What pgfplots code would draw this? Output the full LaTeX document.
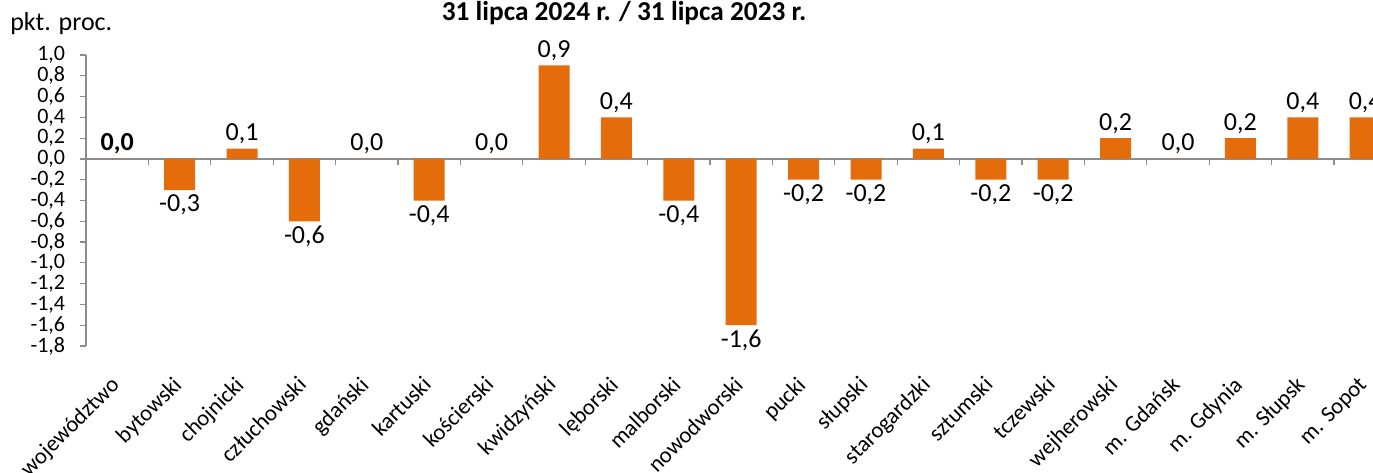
\documentclass[border=0pt]{standalone}
\usepackage{pgfplots}
\pgfplotsset{compat=1.18}
\usepackage{fontspec}
\setmainfont{Carlito}
\definecolor{barc}{HTML}{E46C0A}
\definecolor{axc}{HTML}{8C8C8C}
\begin{document}
\begin{tikzpicture}
\begin{axis}[
  scale only axis, width=982.8pt, height=218.25pt,
  at={(0pt,0pt)}, anchor=south west,
  xmin=-0.5, xmax=20.5, ymin=-1.8, ymax=1.0,
  axis x line=middle, axis y line=left,
  axis line style={-, axc, line width=0.9pt},
  hide obscured x ticks=false, hide obscured y ticks=false,
  ytick={-1.8,-1.6,-1.4,-1.2,-1.0,-0.8,-0.6,-0.4,-0.2,0,0.2,0.4,0.6,0.8,1.0},
  yticklabels={{-1,8},{-1,6},{-1,4},{-1,2},{-1,0},{-0,8},{-0,6},{-0,4},{-0,2},{0,0},{0,2},{0,4},{0,6},{0,8},{1,0}},
  xtick={0,1,2,3,4,5,6,7,8,9,10,11,12,13,14,15,16,17,18,19,20},
  xticklabels={województwo,bytowski,chojnicki,człuchowski,gdański,kartuski,kościerski,kwidzyński,lęborski,malborski,nowodworski,pucki,słupski,starogardzki,sztumski,tczewski,wejherowski,{m. Gdańsk},{m. Gdynia},{m. Słupsk},{m. Sopot}},
  minor xtick={0.5,1.5,2.5,3.5,4.5,5.5,6.5,7.5,8.5,9.5,10.5,11.5,12.5,13.5,14.5,15.5,16.5,17.5,18.5,19.5},
  tick align=outside,
  major tick length=4.5pt,
  minor tick length=4.5pt,
  major x tick style={draw=none},
  tick style={axc, line width=0.9pt},
  yticklabel style={font=\fontsize{16.5}{18}\selectfont, inner sep=1pt, xshift=-10pt},
  xticklabel style={font=\fontsize{17}{18}\selectfont, yshift=-156pt, xshift=-6pt, rotate=45, anchor=north east, inner sep=1pt},
  clip=false,
  nodes near coords align={vertical},
  every node near coord/.append style={font=\fontsize{19.5}{21}\selectfont, text=black},
]
\addplot[ybar, bar width=23.25pt, bar shift=0pt, fill=barc, draw=none,
  nodes near coords={\textbf{\pgfmathprintnumber[fixed,fixed zerofill,precision=1,use comma,assume math mode=true]{\pgfplotspointmeta}}}]
  coordinates {(0,0.0)};
\addplot[ybar, bar width=23.25pt, bar shift=0pt, fill=barc, draw=none,
  nodes near coords={\pgfmathprintnumber[fixed,fixed zerofill,precision=1,use comma,assume math mode=true]{\pgfplotspointmeta}}]
  coordinates {
  (1,-0.3) (2,0.1) (3,-0.6) (4,0.0) (5,-0.4) (6,0.0) (7,0.9) (8,0.4) (9,-0.4) (10,-1.6)
  (11,-0.2) (12,-0.2) (13,0.1) (14,-0.2) (15,-0.2) (16,0.2) (17,0.0) (18,0.2) (19,0.4) (20,0.4)};
\end{axis}
\node[anchor=base, font=\bfseries\fontsize{20.5}{22}\selectfont, inner sep=0pt] at (403.5pt,244.5pt) {31 lipca 2024 r. / 31 lipca 2023 r.};
\node[anchor=base west, font=\fontsize{19.5}{21}\selectfont, inner sep=0pt] at (-57pt,237pt) {pkt. proc.};
\pgfresetboundingbox
\path[use as bounding box] (-64.5pt,-94.5pt) rectangle (965.25pt,259.5pt);
\end{tikzpicture}
\end{document}
